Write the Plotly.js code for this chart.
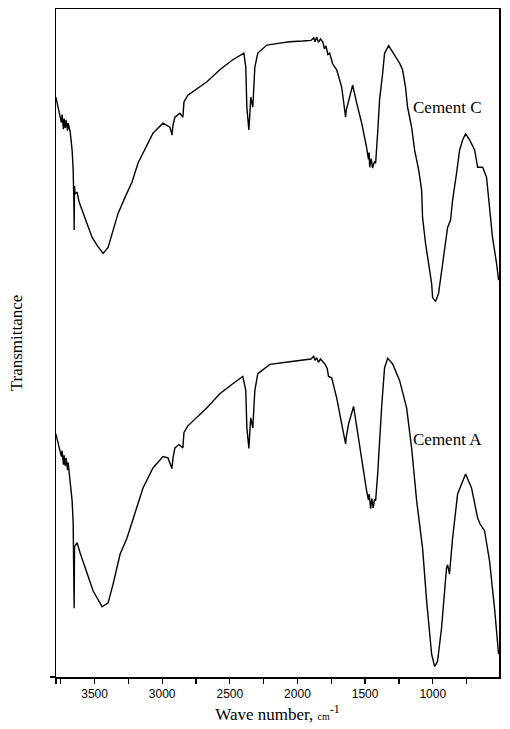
<!DOCTYPE html>
<html>
<head>
<meta charset="utf-8">
<script src="https://cdn.plot.ly/plotly-3.0.1.min.js"></script>
<style>
  html, body { margin: 0; padding: 0; background: #fff; }
  #chart { width: 510px; height: 729px; }
</style>
</head>
<body>
<div id="chart"></div>
<script>
// FTIR spectra of two cements (transmittance in arbitrary units)
const waveC = [3786,3769,3745,3740,3730,3725,3717,3710,3700,3695,
  3680,3666,3658,3652,3651,3648,3644,3629,3614,3584,
  3555,3518,3481,3437,3400,3363,3326,3275,3223,3179,
  3127,3068,2994,2943,2930,2928,2920,2906,2869,2847,
  2839,2810,2669,2574,2478,2396,2382,2374,2362,2359,
  2350,2345,2330,2315,2293,2226,2130,2057,1961,1900,
  1880,1870,1858,1845,1830,1813,1800,1790,1775,1762,
  1740,1710,1673,1650,1644,1640,1622,1592,1562,1525,
  1489,1475,1470,1466,1455,1445,1430,1422,1407,1393,
  1370,1356,1326,1282,1245,1223,1201,1186,1156,1134,
  1104,1082,1075,1053,1031,1008,1001,979,957,935,
  912,890,868,853,824,801,779,757,727,690,
  668,631,602,580,558,528,513];
const transC = [86.8,85.3,83.0,84.2,82.0,83.6,82.2,83.4,81.8,82.9,
  81.6,78.9,75.9,70.0,66.9,73.5,72.3,72.6,71.1,69.4,
  67.6,65.8,64.6,63.4,64.3,66.9,69.4,71.8,74.1,76.9,
  78.9,81.4,82.9,82.3,81.4,81.1,82.6,83.8,84.4,83.8,
  86.1,87.1,89.1,90.9,92.4,93.4,91.3,85.3,82.5,81.9,
  85.0,86.8,85.3,91.3,93.4,94.6,94.9,95.1,95.2,95.3,
  95.7,95.1,95.8,95.0,95.5,95.1,94.0,94.5,93.2,93.4,
  91.8,90.9,88.3,84.5,83.8,84.8,86.4,88.6,85.9,82.9,
  79.3,77.5,78.5,76.3,77.6,76.2,77.2,76.9,81.5,86.4,
  90.4,93.4,94.5,93.1,91.9,90.9,88.3,85.3,82.3,78.9,
  75.9,72.9,68.8,64.9,61.9,58.9,56.8,56.2,57.4,60.9,
  63.9,67.3,68.4,71.4,75.4,78.9,80.4,81.3,80.4,78.9,
  76.3,76.3,74.8,70.3,65.8,61.9,59.4];

const waveA = [3786,3769,3745,3740,3730,3725,3717,3710,3700,3695,
  3680,3666,3658,3652,3651,3648,3644,3629,3607,3570,
  3511,3444,3400,3363,3311,3260,3186,3142,3068,2994,
  2957,2930,2928,2920,2906,2876,2847,2839,2810,2669,
  2574,2478,2404,2382,2374,2362,2359,2350,2345,2330,
  2315,2293,2204,2057,1961,1900,1880,1870,1858,1845,
  1830,1799,1780,1770,1747,1730,1710,1673,1650,1644,
  1640,1622,1585,1562,1525,1489,1475,1470,1459,1450,
  1440,1430,1422,1407,1378,1356,1333,1297,1245,1193,
  1156,1119,1075,1045,1008,986,976,964,935,898,
  890,876,853,816,757,713,668,650,617,580,
  543,513];
const transA = [36.4,34.9,33.0,33.9,31.8,33.2,31.6,32.8,31.0,32.1,
  29.4,26.4,23.1,15.0,10.3,19.5,19.6,20.1,18.6,16.3,
  12.9,10.5,11.1,13.9,18.4,20.8,25.3,28.3,31.3,33.0,
  32.8,31.5,31.2,32.8,34.3,34.8,34.3,36.6,37.6,40.3,
  42.4,43.9,45.0,42.9,37.3,34.8,34.2,37.5,38.8,37.3,
  42.9,45.4,46.8,47.2,47.5,47.6,48.0,47.4,47.8,47.1,
  47.6,46.9,46.2,45.0,44.8,43.3,41.8,37.9,35.2,34.9,
  35.8,37.9,40.5,37.3,32.8,27.9,26.5,27.4,25.2,26.7,
  25.3,26.6,26.4,30.4,40.3,46.3,47.7,46.9,44.4,40.3,
  34.3,26.4,19.3,11.4,3.4,1.6,1.9,2.4,7.3,16.3,
  16.8,15.4,20.8,27.4,30.4,28.3,23.8,22.9,21.9,17.4,
  10.3,3.4];

const tickVals = [3785,3750,3500,3250,3000,2750,2500,2250,2000,1750,1500,1250,1000,750,500];
const tickText = ['','','3500','','3000','','2500','','2000','','1500','','1000','','500'];

const labels = [
  { text: 'Cement C', wave: 1160, trans: 85.3 },
  { text: 'Cement A', wave: 1160, trans: 35.5 }
];

const serif = 'Liberation Serif, Times New Roman, serif';

const lineStyle = { color: '#000', width: 1.4 };
const traces = [
  { x: waveC, y: transC, type: 'scatter', mode: 'lines', line: lineStyle, hoverinfo: 'skip' },
  { x: waveA, y: transA, type: 'scatter', mode: 'lines', line: lineStyle, hoverinfo: 'skip' }
];

const layout = {
  width: 510,
  height: 729,
  margin: { l: 56, r: 11, t: 9, b: 52 },
  paper_bgcolor: '#fff',
  plot_bgcolor: '#fff',
  showlegend: false,
  font: { family: serif, color: '#000' },
  xaxis: {
    range: [3785, 510],
    tickvals: tickVals,
    ticktext: tickText,
    ticks: 'outside',
    ticklen: 5,
    tickwidth: 1.2,
    tickcolor: '#000',
    tickfont: { family: 'Liberation Sans, Arial, sans-serif', size: 12, color: '#000' },
    showline: true,
    mirror: true,
    linecolor: '#000',
    linewidth: 1.5,
    showgrid: false,
    zeroline: false,
    title: {
      text: 'Wave number, <span style="font-size:10px">cm</span><sup>-1</sup>',
      font: { family: serif, size: 17 },
      standoff: 8
    }
  },
  yaxis: {
    range: [0, 100],
    tickvals: [0],
    showticklabels: false,
    ticks: 'outside',
    ticklen: 5,
    tickwidth: 1.2,
    tickcolor: '#000',
    showline: true,
    mirror: true,
    linecolor: '#000',
    linewidth: 1.5,
    showgrid: false,
    zeroline: false,
    title: {
      text: 'Transmittance',
      font: { family: serif, size: 17 },
      standoff: 22
    }
  },
  annotations: labels.map(l => ({
    x: l.wave, y: l.trans, xref: 'x', yref: 'y',
    text: l.text, showarrow: false, xanchor: 'left', yanchor: 'middle',
    font: { family: serif, size: 17, color: '#000' }
  }))
};

Plotly.newPlot('chart', traces, layout, { displayModeBar: false, staticPlot: true });
</script>
</body>
</html>
